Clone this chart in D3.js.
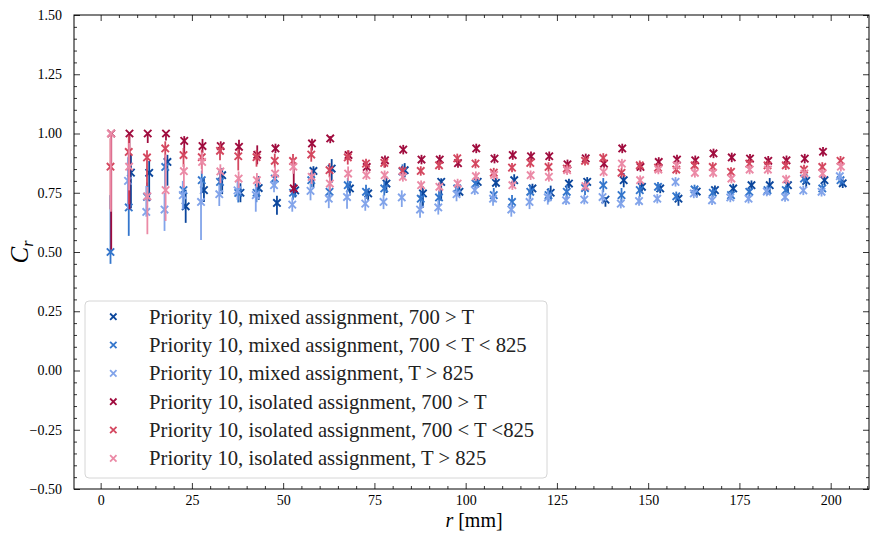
<!DOCTYPE html>
<html><head><meta charset="utf-8">
<script src="https://cdn.jsdelivr.net/npm/d3@7"></script>
<style>body{margin:0;background:#fff;} svg{display:block;}</style>
</head><body>
<svg id="chart" width="872" height="534"></svg>
<script>
// ---------- data ----------
const rBins = [2.5,7.5,12.5,17.5,22.5,27.5,32.5,37.5,42.5,47.5,52.5,57.5,62.5,67.5,72.5,77.5,82.5,87.5,92.5,97.5,102.5,107.5,112.5,117.5,122.5,127.5,132.5,137.5,142.5,147.5,152.5,157.5,162.5,167.5,172.5,177.5,182.5,187.5,192.5,197.5,202.5];
const xTicks = [0,25,50,75,100,125,150,175,200];
const yTicks = [-0.5,-0.25,0,0.25,0.5,0.75,1.0,1.25,1.5];
const seriesNames = [
  "Priority 10, mixed assignment, 700 > T",
  "Priority 10, mixed assignment, 700 < T < 825",
  "Priority 10, mixed assignment, T > 825",
  "Priority 10, isolated assignment, 700 > T",
  "Priority 10, isolated assignment, 700 < T <825",
  "Priority 10, isolated assignment, T > 825"
];
const seriesColors = ["#0b469c","#3476cc","#82a4ea","#a00c3e","#d4475f","#eb8aa6"];
const seriesOffsets = [0.8,0.2,0,0.4,0.2,0.3];

const mixLow = [null,0.835,0.834,0.88,0.693,0.761,0.824,0.75,0.77,0.707,0.76,0.842,0.852,0.768,0.747,0.789,0.845,0.747,0.796,0.754,0.796,0.792,0.803,0.768,0.75,0.789,0.796,0.721,0.803,0.775,0.768,0.725,0.755,0.761,0.768,0.782,0.782,0.782,0.80,0.803,0.79];
const mixMid = [0.50,0.688,0.733,0.859,0.761,0.803,0.796,0.749,0.75,0.81,0.75,0.803,0.754,0.782,0.754,0.768,0.84,0.725,0.73,0.768,0.789,0.74,0.711,0.754,0.74,0.754,0.77,0.782,0.74,0.761,0.775,0.735,0.764,0.75,0.74,0.754,0.761,0.761,0.81,0.768,0.803];
const mixHigh = [null,0.80,0.669,0.679,0.74,0.711,0.744,0.76,0.74,0.782,0.70,0.758,0.725,0.732,0.704,0.711,0.73,0.679,0.688,0.744,0.761,0.725,0.679,0.711,0.73,0.718,0.721,0.732,0.704,0.715,0.725,0.796,0.747,0.718,0.73,0.725,0.755,0.732,0.76,0.754,0.82];
const isoLow = [1.00,1.00,1.00,1.00,0.969,0.947,0.947,0.944,0.91,0.937,0.768,0.958,0.979,0.909,0.859,0.887,0.932,0.89,0.89,0.875,0.937,0.894,0.909,0.904,0.904,0.87,0.895,0.873,0.937,0.859,0.88,0.89,0.887,0.916,0.899,0.894,0.885,0.887,0.894,0.923,null];
const isoMid = [0.86,0.922,0.899,0.937,0.909,0.90,0.927,0.904,0.90,0.885,0.884,0.911,0.845,0.899,0.873,0.876,0.842,0.842,0.866,0.895,0.873,0.835,0.856,0.876,0.859,0.852,0.885,0.897,0.834,0.866,0.856,0.848,0.866,0.859,0.838,0.873,0.866,0.866,0.848,0.859,0.885];
const isoHigh = [1.00,0.86,0.735,0.761,0.841,0.88,0.84,0.81,0.803,0.831,0.86,0.817,0.789,0.831,0.824,0.824,0.817,0.782,0.775,0.789,0.82,0.825,0.782,0.824,0.817,0.845,0.778,0.838,0.873,0.803,0.848,0.866,0.834,0.834,0.81,0.848,0.848,0.806,0.831,0.831,0.86];

// lower / upper error bars
const mixLowErrLo = [0,0.15,0.12,0.10,0.07,0.05,0.08,0.04,0.05,0.05,0.03,0.07,0.06,0.03,0.03,0.04,0.03,0.06,0.08,0.02,0.02,0.02,0.025,0.02,0.03,0.02,0.02,0.03,0.03,0.02,0.02,0.03,0.025,0.02,0.02,0.02,0.03,0.03,0.03,0.02,0.02];
const mixLowErrHi = [0,0.08,0.05,0.03,0.07,0.05,0.03,0.04,0.05,0.03,0.03,0.02,0.04,0.03,0.02,0.03,0.03,0.03,0.015,0.02,0.02,0.02,0.025,0.02,0.03,0.02,0.02,0.01,0.03,0.02,0.02,0.02,0.02,0.02,0.02,0.02,0.03,0.02,0.03,0.02,0.02];
const mixMidErrLo = [0.05,0.12,0.06,0.09,0.08,0.05,0.04,0.04,0.04,0.03,0.03,0.03,0.03,0.03,0.03,0.03,0.03,0.04,0.04,0.03,0.02,0.03,0.03,0.03,0.03,0.03,0.03,0.03,0.03,0.03,0.02,0.02,0.02,0.02,0.02,0.02,0.02,0.02,0.02,0.02,0.02];
const mixMidErrHi = [0.24,0.23,0.06,0.04,0.02,0.04,0.04,0.04,0.04,0.03,0.03,0.03,0.03,0.03,0.03,0.03,0.03,0.03,0.03,0.03,0.02,0.03,0.03,0.03,0.03,0.03,0.03,0.03,0.03,0.03,0.02,0.02,0.02,0.02,0.02,0.02,0.02,0.02,0.02,0.02,0.02];
const mixHighErrLo = [0,0.12,0.02,0.09,0.06,0.16,0.05,0.04,0.07,0.03,0.03,0.04,0.04,0.05,0.03,0.03,0.04,0.035,0.03,0.03,0.02,0.03,0.03,0.03,0.03,0.02,0.02,0.03,0.02,0.02,0.02,0.02,0.02,0.02,0.02,0.02,0.02,0.02,0.02,0.02,0.02];
const mixHighErrHi = [0,0.10,0.11,0.07,0.06,0.10,0.04,0.04,0.04,0.03,0.03,0.03,0.03,0.03,0.03,0.03,0.03,0.03,0.03,0.03,0.02,0.03,0.03,0.03,0.03,0.02,0.02,0.03,0.02,0.02,0.02,0.02,0.02,0.02,0.02,0.02,0.02,0.02,0.02,0.02,0.02];
const isoLowErrLo = [0.49,0.32,0.04,0.03,0.06,0.03,0.03,0.04,0.04,0.02,0.02,0.03,0.02,0.02,0.02,0.03,0.02,0.02,0.02,0.02,0.02,0.02,0.02,0.02,0.02,0.02,0.02,0.02,0.02,0.02,0.02,0.02,0.02,0.02,0.02,0.02,0.02,0.02,0.02,0.02,0];
const isoLowErrHi = [0,0,0,0,0.02,0.03,0.02,0.03,0.04,0.02,0.11,0.02,0.01,0.02,0.02,0.02,0.02,0.02,0.02,0.02,0.02,0.02,0.02,0.02,0.02,0.02,0.02,0.02,0.02,0.02,0.02,0.02,0.02,0.02,0.02,0.02,0.02,0.02,0.02,0.02,0];
const isoMidErrLo = [0.18,0.22,0.12,0.05,0.05,0.05,0.04,0.06,0.04,0.03,0.03,0.03,0.03,0.03,0.02,0.02,0.02,0.02,0.02,0.02,0.02,0.02,0.02,0.02,0.02,0.02,0.02,0.02,0.02,0.02,0.02,0.02,0.02,0.02,0.02,0.02,0.02,0.02,0.02,0.02,0.02];
const isoMidErrHi = [0.12,0.07,0.03,0.03,0.03,0.03,0.03,0.03,0.03,0.03,0.03,0.03,0.03,0.03,0.02,0.02,0.02,0.02,0.02,0.02,0.02,0.02,0.02,0.02,0.02,0.02,0.02,0.02,0.02,0.02,0.02,0.02,0.02,0.02,0.02,0.02,0.02,0.02,0.02,0.02,0.02];
const isoHighErrLo = [0.33,0.10,0.16,0.13,0.07,0.05,0.05,0.04,0.03,0.03,0.03,0.03,0.03,0.03,0.02,0.02,0.02,0.02,0.02,0.02,0.02,0.02,0.02,0.02,0.02,0.02,0.02,0.02,0.02,0.02,0.02,0.02,0.02,0.02,0.02,0.02,0.02,0.02,0.02,0.02,0.02];
const isoHighErrHi = [0,0.10,0.04,0.15,0.03,0.04,0.03,0.03,0.03,0.03,0.03,0.03,0.03,0.03,0.02,0.02,0.02,0.02,0.02,0.02,0.02,0.02,0.02,0.02,0.02,0.02,0.02,0.02,0.02,0.02,0.02,0.02,0.02,0.02,0.02,0.02,0.02,0.02,0.02,0.02,0.02];

const seriesValues = [mixLow, mixMid, mixHigh, isoLow, isoMid, isoHigh];
const seriesErrLo = [mixLowErrLo, mixMidErrLo, mixHighErrLo, isoLowErrLo, isoMidErrLo, isoHighErrLo];
const seriesErrHi = [mixLowErrHi, mixMidErrHi, mixHighErrHi, isoLowErrHi, isoMidErrHi, isoHighErrHi];

// ---------- layout ----------
const L = 74, R = 869, T = 15, B = 489;
const FONT = "'Liberation Serif','DejaVu Serif',serif";
const svg = d3.select("#chart");
const x = d3.scaleLinear().domain([-7.3, 210.5]).range([L, R]);
const y = d3.scaleLinear().domain([-0.5, 1.5]).range([B, T]);

const fmtY = v => (v < 0 ? "\u2212" : "") + Math.abs(v).toFixed(2);

// axes
const xMinor = d3.range(0, 211, 5).filter(v => v % 25 !== 0);
const axB = d3.axisBottom(x).tickValues(xTicks).tickSize(-6).tickPadding(6).tickFormat(d3.format("d"));
const axBm = d3.axisBottom(x).tickValues(xMinor).tickSize(-3).tickFormat("");
const axT = d3.axisTop(x).tickValues(xTicks).tickSize(-6).tickFormat("");
const axTm = d3.axisTop(x).tickValues(xMinor).tickSize(-3).tickFormat("");
const axL = d3.axisLeft(y).tickValues(yTicks).tickSize(-6).tickPadding(12).tickFormat(fmtY);
const yMinor = d3.range(-0.5, 1.5001, 0.05).map(v => +v.toFixed(2)).filter(v => Math.abs(Math.round(v * 4) - v * 4) > 1e-6);
const axLm = d3.axisLeft(y).tickValues(yMinor).tickSize(-3).tickFormat("");
const axR = d3.axisRight(y).tickValues(yTicks).tickSize(-6).tickFormat("");
const axRm = d3.axisRight(y).tickValues(yMinor).tickSize(-3).tickFormat("");

function styleAxis(g) {
  g.select(".domain").remove();
  g.selectAll("line").attr("stroke", "#000").attr("stroke-width", 0.8);
  g.selectAll("text").attr("font-family", FONT).attr("font-size", 14).attr("fill", "#000");
}
svg.append("g").attr("transform", `translate(0,${B})`).call(axB).call(styleAxis);
svg.append("g").attr("transform", `translate(0,${B})`).call(axBm).call(styleAxis);
svg.append("g").attr("transform", `translate(0,${T})`).call(axT).call(styleAxis);
svg.append("g").attr("transform", `translate(0,${T})`).call(axTm).call(styleAxis);
svg.append("g").attr("transform", `translate(${L},0)`).call(axL).call(styleAxis);
svg.append("g").attr("transform", `translate(${L},0)`).call(axLm).call(styleAxis);
svg.append("g").attr("transform", `translate(${R},0)`).call(axR).call(styleAxis);
svg.append("g").attr("transform", `translate(${R},0)`).call(axRm).call(styleAxis);

svg.append("rect").attr("x", L).attr("y", T).attr("width", R - L).attr("height", B - T)
  .attr("fill", "none").attr("stroke", "#000").attr("stroke-width", 1);

// data
const plot = svg.append("g");
const ms = 3.7;
seriesValues.forEach((vals, si) => {
  const g = plot.append("g").attr("stroke", seriesColors[si]).attr("fill", "none");
  const pts = rBins.map((r, i) => ({ r: r + seriesOffsets[si], v: vals[i], lo: seriesErrLo[si][i], hi: seriesErrHi[si][i] }))
    .filter(d => d.v !== null);
  g.selectAll("line.err").data(pts).join("line").attr("class", "err")
    .attr("x1", d => x(d.r)).attr("x2", d => x(d.r))
    .attr("y1", d => y(d.v - d.lo)).attr("y2", d => y(d.v + d.hi))
    .attr("stroke-width", 1.8);
  g.selectAll("path.mk").data(pts).join("path").attr("class", "mk")
    .attr("d", d => {
      const cx = x(d.r), cy = y(d.v);
      return `M${cx - ms},${cy - ms}L${cx + ms},${cy + ms}M${cx - ms},${cy + ms}L${cx + ms},${cy - ms}`;
    })
    .attr("stroke-width", 1.9);
});

// labels
svg.append("text").attr("transform", `translate(28,252) rotate(-90)`).attr("text-anchor", "middle")
  .attr("font-family", FONT).attr("font-size", 25).attr("font-style", "italic")
  .html(`C<tspan font-size="16" dy="5">r</tspan>`);
svg.append("text").attr("x", 474).attr("y", 527).attr("text-anchor", "middle")
  .attr("font-family", FONT).attr("font-size", 20)
  .html(`<tspan font-style="italic">r</tspan> [mm]`);

// legend
const lg = svg.append("g");
lg.append("rect").attr("x", 85).attr("y", 301).attr("width", 462).attr("height", 177).attr("rx", 4)
  .attr("fill", "#fff").attr("fill-opacity", 0.8).attr("stroke", "#d6d6d6").attr("stroke-width", 1);
seriesNames.forEach((name, i) => {
  const cy = 316.7 + i * 28.33, cx = 113.3, s = 3.2;
  lg.append("path").attr("d", `M${cx - s},${cy - s}L${cx + s},${cy + s}M${cx - s},${cy + s}L${cx + s},${cy - s}`)
    .attr("stroke", seriesColors[i]).attr("stroke-width", 1.8).attr("fill", "none");
  lg.append("text").attr("x", 149).attr("y", cy + 7).attr("font-family", FONT).attr("font-size", 20.7)
    .attr("fill", "#222").text(name);
});
</script>
</body></html>
